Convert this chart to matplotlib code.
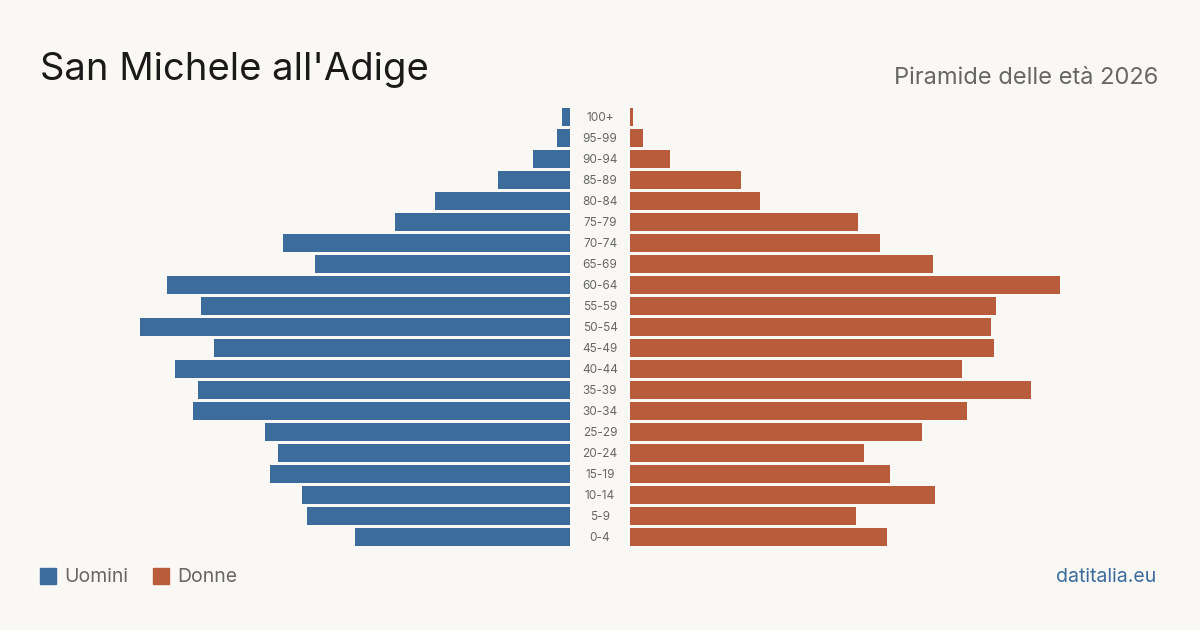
import matplotlib

matplotlib.use("Agg")
import matplotlib.pyplot as plt
from matplotlib.patches import Rectangle

plt.rcParams["font.family"] = ["Inter", "DejaVu Sans"]

# --- dati (stimati dal grafico) ---
classi = ["100+", "95-99", "90-94", "85-89", "80-84", "75-79", "70-74", "65-69",
          "60-64", "55-59", "50-54", "45-49", "40-44", "35-39", "30-34", "25-29",
          "20-24", "15-19", "10-14", "5-9", "0-4"]
uomini = [3, 5, 14, 27, 51, 66, 108, 96, 152, 139, 162, 134, 149, 140, 142, 115,
          110, 113, 101, 99, 81]
donne = [1, 5, 15, 42, 49, 86, 94, 114, 162, 138, 136, 137, 125, 151, 127, 110,
         88, 98, 115, 85, 97]

BG = "#f9f8f4"
BLU = "#3c6c9c"
ARANCIO = "#b95c3c"
GRIGIO = "#666666"

W, H = 1200, 630
fig = plt.figure(figsize=(W / 100, H / 100), dpi=100, facecolor=BG)

max_val = max(max(uomini), max(donne))
xmax = max_val * 440 / 430  # 430 px per la barra più lunga
y = list(range(len(classi)))
ax_bottom = 82.5 / H
ax_height = 441 / H

ax_l = fig.add_axes([130 / W, ax_bottom, 440 / W, ax_height])
ax_r = fig.add_axes([630 / W, ax_bottom, 440 / W, ax_height])

ax_l.barh(y, uomini, height=0.81, color=BLU)
ax_r.barh(y, donne, height=0.81, color=ARANCIO)
ax_l.set_xlim(xmax, 0)
ax_r.set_xlim(0, xmax)

for ax in (ax_l, ax_r):
    ax.set_ylim(len(classi) - 0.5, -0.5)
    ax.axis("off")
    ax.set_facecolor("none")

# etichette delle classi al centro
for i, c in enumerate(classi):
    fy = (H - (118 + 21 * i)) / H
    fig.text(600 / W, fy, c, ha="center", va="center", fontsize=8.5, color=GRIGIO)

# titolo e sottotitolo
fig.text(40 / W, (H - 80) / H, "San Michele all'Adige", fontsize=27.5,
         color="#1a1a1a", ha="left", va="baseline")
fig.text(1158 / W, (H - 84) / H, "Piramide delle età 2026", fontsize=17,
         color=GRIGIO, ha="right", va="baseline")

# legenda
for x0, col, lab in [(40, BLU, "Uomini"), (153, ARANCIO, "Donne")]:
    fig.patches.append(Rectangle((x0 / W, (H - 584) / H), 16 / W, 16 / H,
                                 transform=fig.transFigure, color=col))
    fig.text((x0 + 24) / W, (H - 577) / H, lab, fontsize=14, color=GRIGIO,
             ha="left", va="center")

fig.text(1156 / W, (H - 577) / H, "datitalia.eu", fontsize=14, color=BLU,
         ha="right", va="center")

fig.savefig("out.png", dpi=100, facecolor=BG)
